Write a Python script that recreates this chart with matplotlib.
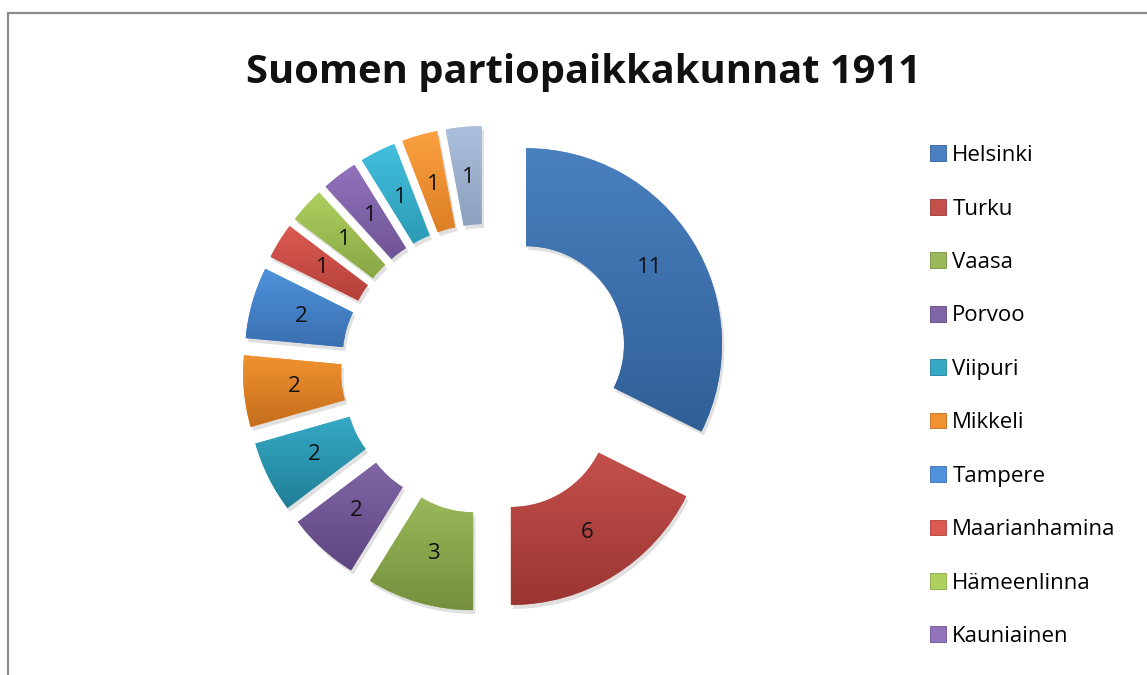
import numpy as np
import matplotlib

matplotlib.use("Agg")
import matplotlib.pyplot as plt
from matplotlib.colors import LinearSegmentedColormap, to_rgb
from matplotlib.patches import Patch, Rectangle

plt.rcParams["font.family"] = ["Open Sans", "DejaVu Sans"]

TITLE = "Suomen partiopaikkakunnat 1911"

# legend names (the legend box in the source is cut after ten entries)
towns = [
    "Helsinki", "Turku", "Vaasa", "Porvoo", "Viipuri", "Mikkeli",
    "Tampere", "Maarianhamina", "Hämeenlinna", "Kauniainen",
]
# slice values, clockwise from 12 o'clock
counts = [11, 6, 3, 2, 2, 2, 2, 1, 1, 1, 1, 1, 1]

# (top, bottom) gradient colours per slice
TOP = ["#4a80c0", "#c4504c", "#9ab95a", "#8166a6", "#35a9c5", "#f0922f",
       "#4f92db", "#dc5a52", "#aed05f", "#9274bd", "#43c0de", "#fca141", "#acc0dd"]
BOTTOM = ["#2f5f96", "#9b3633", "#758f3e", "#5e4681", "#217f96", "#c56d1d",
          "#3a70b0", "#b3403a", "#88a645", "#6e5394", "#2b9ab5", "#dc7f25", "#8c9fbd"]

EXPLODE = 0.24

fig = plt.figure(figsize=(11.47, 6.75), dpi=100)
W, H = 1147, 675

# chart frame (only top and left edges visible)
fig.patches.append(Rectangle((8 / W, -0.2), 1.2, 1 - 13 / H + 0.2,
                             transform=fig.transFigure, fill=False,
                             edgecolor="#8c8c8c", linewidth=1.6))

cx, cy, R = 486, 369, 196
half = 290
ax = fig.add_axes([(cx - half) / W, (H - cy - half) / H, 2 * half / W, 2 * half / H])
lim = half / R

total = sum(counts)
wedges, _, autotexts = ax.pie(
    counts,
    explode=[EXPLODE] * len(counts),
    startangle=90,
    counterclock=False,
    colors=TOP,
    radius=1.0,
    pctdistance=0.74,
    autopct=lambda p: f"{round(p * total / 100):d}",
    wedgeprops=dict(width=0.5, linewidth=0),
    textprops=dict(fontsize=16, color="#111111"),
)

grad = np.linspace(0, 1, 256).reshape(-1, 1)
for w, top, bot in zip(wedges, TOP, BOTTOM):
    ext = w.get_path().get_extents()
    # soft shadow
    sh = matplotlib.patches.Wedge((w.center[0] + 0.012, w.center[1] - 0.02), w.r,
                                  w.theta1, w.theta2, width=w.width,
                                  facecolor="#000000", alpha=0.12, linewidth=0, zorder=0.5)
    ax.add_patch(sh)
    cmap = LinearSegmentedColormap.from_list("g", [to_rgb(top), to_rgb(bot)])
    im = ax.imshow(grad, cmap=cmap, aspect="auto", origin="upper",
                   extent=[ext.x0, ext.x1, ext.y0, ext.y1], zorder=1.5)
    im.set_clip_path(w)
    w.set_zorder(1)
for t in autotexts:
    t.set_zorder(3)
ax.set_xlim(-lim, lim)
ax.set_ylim(-lim, lim)
ax.set_aspect("equal")
ax.axis("off")

fig.text(583 / W, 1 - 73 / H, TITLE, ha="center", va="center",
         fontsize=28.7, fontweight="bold", color="#111111")

handles = [Patch(facecolor=TOP[i], edgecolor=BOTTOM[i], linewidth=0.6) for i in range(len(towns))]
fig.legend(handles, towns, loc="upper left", bbox_to_anchor=(919 / W, 1 - 134 / H),
           frameon=False, fontsize=16, handlelength=0.72, handleheight=0.72,
           handletextpad=0.28, labelspacing=1.46, borderpad=0)

fig.savefig("out.png", dpi=100)
